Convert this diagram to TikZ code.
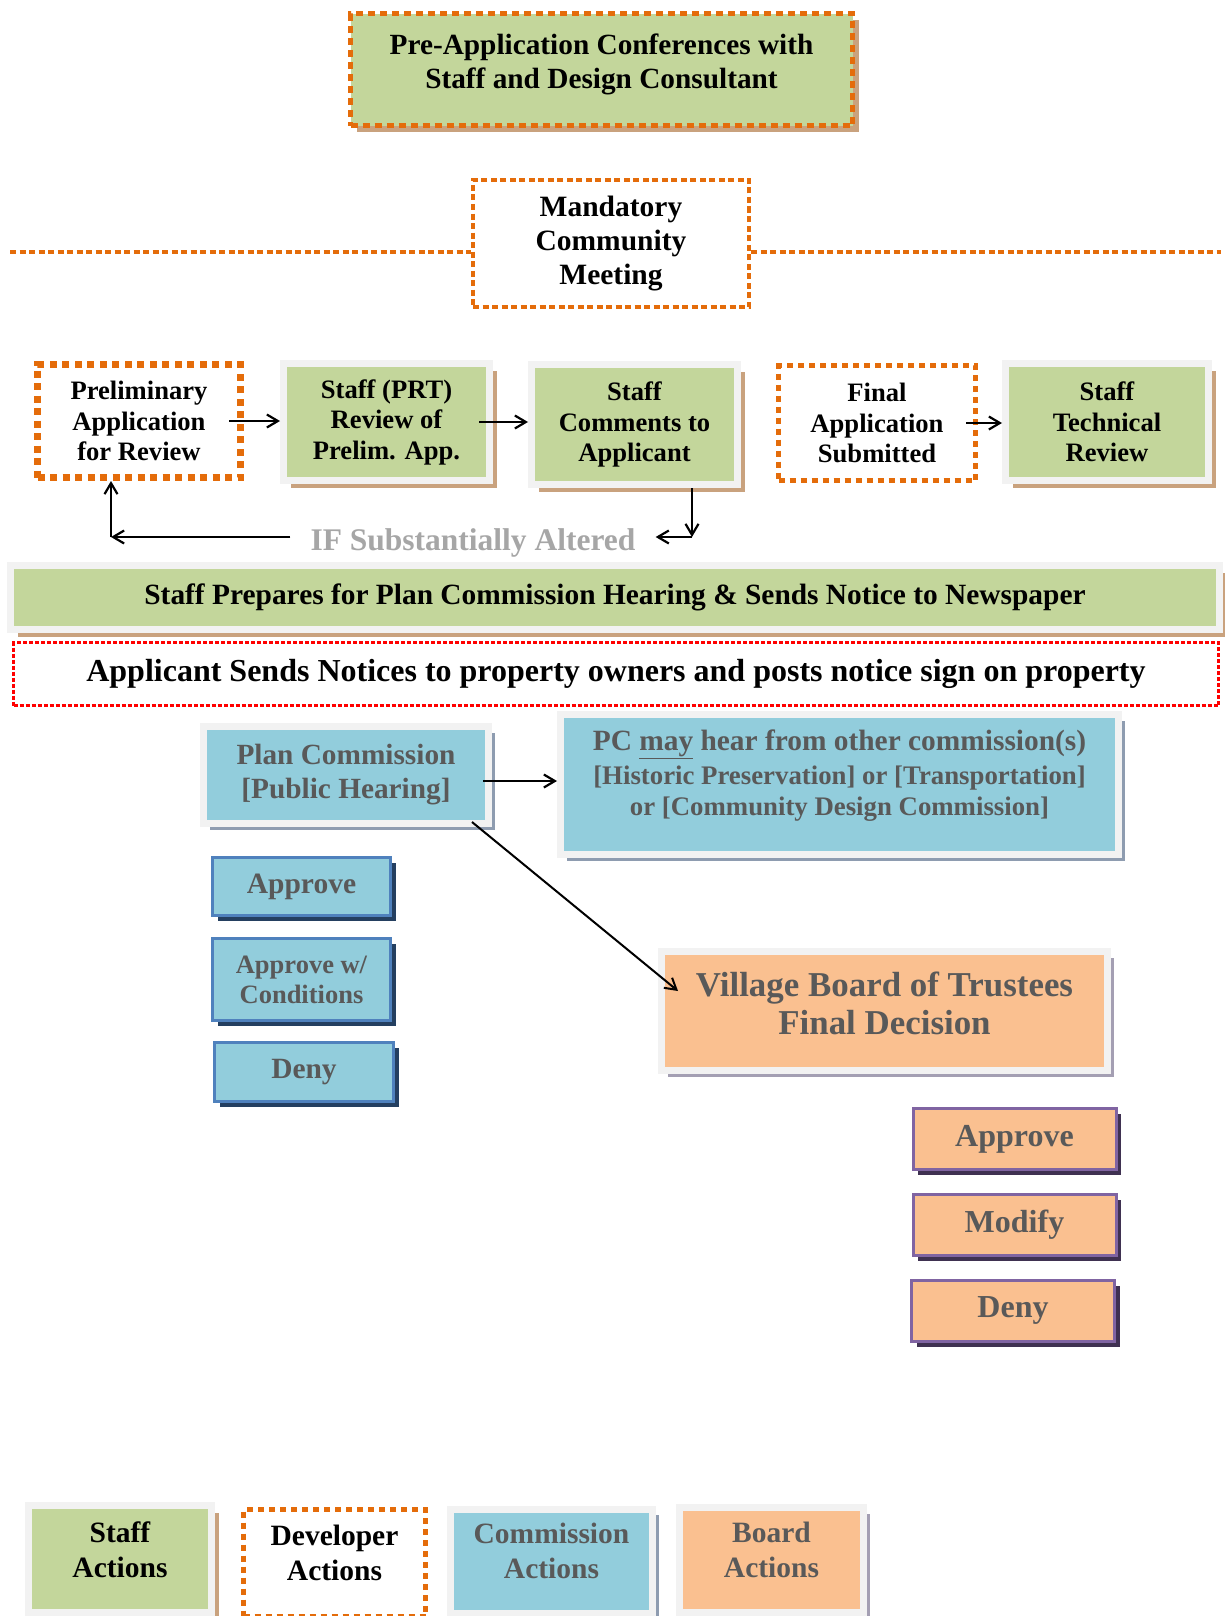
\documentclass[tikz,border=0pt]{standalone}
\usepackage{fontspec}
\setmainfont{Liberation Serif}
\usetikzlibrary{arrows.meta,shadows}

\definecolor{staffgreen}{HTML}{C3D69B}
\definecolor{devorange}{HTML}{E46C0A}
\definecolor{framegray}{HTML}{F2F2F2}
\definecolor{staffshadow}{HTML}{C9A27E}
\definecolor{commblue}{HTML}{92CDDC}
\definecolor{commshadow}{HTML}{8E9CB0}
\definecolor{commedge}{HTML}{4F81BD}
\definecolor{commdark}{HTML}{243F60}
\definecolor{boardorange}{HTML}{FAC090}
\definecolor{boardshadow}{HTML}{A49FB3}
\definecolor{boardedge}{HTML}{8064A2}
\definecolor{boarddark}{HTML}{3F3151}
\definecolor{graytext}{HTML}{595959}
\definecolor{altgray}{HTML}{A6A6A6}
\definecolor{noticered}{HTML}{FF0000}

\newcommand{\bfsize}[2]{\fontsize{#1pt}{#2pt}\selectfont\bfseries}
\newcommand{\lowstrut}[1]{\rule[-#1]{0pt}{#1}}

\tikzset{
  framed/.style={draw=framegray, line width=7pt, inner sep=0pt, align=center},
  staffbox/.style={framed, fill=staffgreen,
    drop shadow={shadow xshift=7pt, shadow yshift=-7pt, fill=staffshadow, opacity=1}},
  commbox/.style={framed, fill=commblue, text=graytext,
    drop shadow={shadow xshift=6pt, shadow yshift=-6pt, fill=commshadow, opacity=1}},
  boardbox/.style={framed, fill=boardorange, text=graytext,
    drop shadow={shadow xshift=6pt, shadow yshift=-6pt, fill=boardshadow, opacity=1}},
  devbox/.style={draw=devorange, fill=white, inner sep=0pt, align=center},
  commpick/.style={draw=commedge, line width=3pt, fill=commblue, text=graytext,
    inner sep=0pt, align=center,
    drop shadow={shadow xshift=5pt, shadow yshift=-5.5pt, fill=commdark, opacity=1}},
  boardpick/.style={draw=boardedge, line width=3pt, fill=boardorange, text=graytext,
    inner sep=0pt, align=center,
    drop shadow={shadow xshift=5pt, shadow yshift=-5.5pt, fill=boarddark, opacity=1}},
  flow/.style={-{Straight Barb[length=11pt,width=13pt]}, line width=2.2pt},
}

\begin{document}
\begin{tikzpicture}[x=1pt,y=-1pt]
  \useasboundingbox (0,0) rectangle (1225,1616);

  %%%%% DEVELOPER START %%%%%
  \node[devbox, fill=staffgreen, line width=5pt, dash pattern=on 7pt off 5pt,
    minimum width=502pt, minimum height=112pt, font=\bfsize{29.3}{34},
    drop shadow={shadow xshift=6.5pt, shadow yshift=-6pt, fill=staffshadow, opacity=1}]
    (preconf) at (601.5,70) {Pre-Application Conferences with\\Staff and Design Consultant\lowstrut{18pt}};

  \node[devbox, line width=4pt, dash pattern=on 6pt off 3.5pt,
    minimum width=276pt, minimum height=127pt, font=\bfsize{29.5}{34}]
    (meeting) at (611,243.5) {Mandatory\\Community\\Meeting};
  \coordinate (lineL) at (10,252);
  \coordinate (lineR) at (1221,252);
  \draw[devorange, line width=4pt, dash pattern=on 6pt off 3.5pt] (lineL) -- (lineL -| meeting.west);
  \draw[devorange, line width=4pt, dash pattern=on 6pt off 3.5pt] (lineR -| meeting.east) -- (lineR);

  %%%%% REVIEW ROW %%%%%
  \node[devbox, line width=7pt, dash pattern=on 7pt off 5.5pt,
    minimum width=203pt, minimum height=113pt, font=\bfsize{26.6}{30.5}]
    (prelim) at (139,421) {Preliminary\\Application\\for Review};
  \node[staffbox, minimum width=206pt, minimum height=117pt, font=\bfsize{26.6}{30.5}]
    (prtreview) at (386.5,422) {Staff (PRT)\\Review of\\Prelim. App.};
  \node[staffbox, minimum width=206pt, minimum height=120pt, font=\bfsize{26.6}{30.5}]
    (comments) at (634.5,424.5) {Staff\\Comments to\\Applicant};
  \node[devbox, line width=5pt, dash pattern=on 6pt off 5pt,
    minimum width=197pt, minimum height=115pt, font=\bfsize{26.6}{30.5}]
    (finalapp) at (877,423) {Final\\Application\\Submitted};
  \node[staffbox, minimum width=203pt, minimum height=117pt, font=\bfsize{26.6}{30.5}]
    (techreview) at (1107,422) {Staff\\Technical\\Review};

  \draw[flow] ([xshift=-15pt]prelim.east) -- (prelim.east -| prtreview.west);
  \draw[flow] ([xshift=-14pt]prtreview.east) -- (prtreview.east -| comments.west);
  \draw[flow] ([xshift=-12pt]finalapp.east) -- (finalapp.east -| techreview.west);

  \node[text=altgray, font=\bfsize{31.5}{36}, inner xsep=20pt, inner ysep=0pt]
    (altered) at (473,543) {IF Substantially Altered};
  \coordinate (backR) at (692,537);
  \coordinate (backL) at (111,537);
  \draw[flow] (comments.south -| backR) -- (backR);
  \draw[flow] (backR) -- (backR -| altered.east);
  \draw[flow] (backL -| altered.west) -- (backL);
  \draw[flow] (backL) -- (backL |- prelim.south);

  %%%%% NOTICES %%%%%
  \node[staffbox, minimum width=1209pt, minimum height=64pt, font=\bfsize{29.4}{34}]
    (newspaper) at (615,597.5) {Staff Prepares for Plan Commission Hearing \& Sends Notice to Newspaper};
  \node[devbox, draw=noticered, line width=3pt, dash pattern=on 4pt off 2pt,
    minimum width=1205pt, minimum height=63pt, font=\bfsize{32}{36}]
    (notices) at (616,674) {Applicant Sends Notices to property owners and posts notice sign on property};

  %%%%% COMMISSION %%%%%
  \node[commbox, minimum width=285pt, minimum height=97pt, font=\bfsize{29.3}{34}]
    (plancomm) at (346,775) {Plan Commission\\{}[Public Hearing]};
  \node[commbox, minimum width=558pt, minimum height=140pt, font=\bfsize{26.8}{31}]
    (othercomm) at (839.5,784.5) {{\fontsize{29.4pt}{34pt}\selectfont PC \underline{may} hear from other commission(s)}\\[3pt]{}[Historic Preservation] or [Transportation]\\or [Community Design Commission]\lowstrut{23pt}};
  \draw[flow] ([xshift=-9pt,yshift=-6pt]plancomm.east) -- ([yshift=-6pt]plancomm.east -| othercomm.west);

  \node[commpick, minimum width=178pt, minimum height=58pt, font=\bfsize{29.5}{30}]
    (cappr) at (301.5,886.5) {Approve};
  \node[commpick, minimum width=178pt, minimum height=82pt, font=\bfsize{26.5}{30}]
    (ccond) at (301.5,979.5) {Approve w/\\Conditions};
  \node[commpick, minimum width=179pt, minimum height=59pt, font=\bfsize{29.4}{30}]
    (cdeny) at (304,1072) {Deny};

  %%%%% BOARD %%%%%
  \node[boardbox, minimum width=446pt, minimum height=119pt, font=\bfsize{34.9}{38}]
    (board) at (884.5,1011) {Village Board of Trustees\\Final Decision\lowstrut{15pt}};
  \draw[flow, line width=2pt] ([xshift=-20pt,yshift=5pt]plancomm.south east) -- ([xshift=20pt,yshift=20pt]board.west);

  \node[boardpick, minimum width=203pt, minimum height=61pt, font=\bfsize{32}{34}]
    (bappr) at (1014.5,1139) {Approve};
  \node[boardpick, minimum width=203pt, minimum height=61pt, font=\bfsize{32}{34}]
    (bmod) at (1014.5,1225) {Modify};
  \node[boardpick, minimum width=203pt, minimum height=61pt, font=\bfsize{32}{34}]
    (bdeny) at (1013,1310.5) {Deny};

  %%%%% LEGEND %%%%%
  \node[staffbox, minimum width=183pt, minimum height=107pt, font=\bfsize{29.5}{35}]
    (lgstaff) at (120,1559) {Staff\\Actions\lowstrut{19pt}};
  \node[devbox, line width=5pt, dash pattern=on 6pt off 5pt,
    minimum width=182pt, minimum height=107pt, font=\bfsize{29.5}{35}]
    (lgdev) at (334.5,1563) {Developer\\Actions\lowstrut{20pt}};
  \node[commbox, minimum width=202pt, minimum height=104pt, font=\bfsize{29.5}{35}]
    (lgcomm) at (551.5,1561) {Commission\\Actions\lowstrut{20pt}};
  \node[boardbox, minimum width=184pt, minimum height=105pt, font=\bfsize{29.5}{35}]
    (lgboard) at (771.5,1560) {Board\\Actions\lowstrut{20pt}};
\end{tikzpicture}
\end{document}
